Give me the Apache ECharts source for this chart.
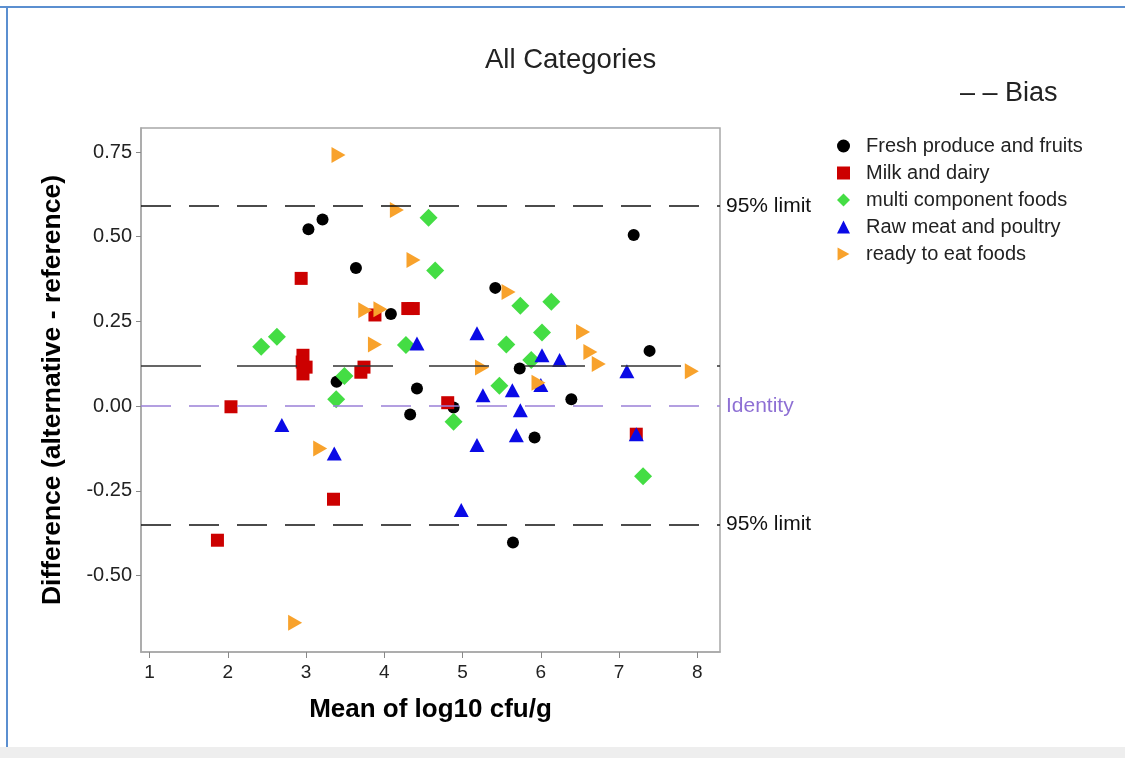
<!DOCTYPE html>
<html>
<head>
<meta charset="utf-8">
<script src="https://cdn.jsdelivr.net/npm/echarts@6/dist/echarts.min.js"></script>
<style>
html,body{margin:0;padding:0;background:#fff;}
#chart{width:1125px;height:758px;}
</style>
</head>
<body>
<div id="chart"></div>
<script>
const categories = ['Fresh produce and fruits', 'Milk and dairy', 'multi component foods', 'Raw meat and poultry', 'ready to eat foods'];

const freshX = [3.03, 3.21, 3.39, 3.637, 4.084, 4.33, 4.417, 4.885, 5.418, 5.644, 5.73, 5.92, 6.39, 7.187, 7.39];
const freshY = [0.522, 0.551, 0.072, 0.408, 0.272, -0.025, 0.052, -0.004, 0.349, -0.403, 0.111, -0.093, 0.02, 0.505, 0.163];

const milkX = [1.867, 2.04, 2.937, 2.96, 2.95, 3.0, 2.96, 3.35, 3.70, 3.74, 3.88, 4.30, 4.37, 4.81, 7.22];
const milkY = [-0.396, -0.002, 0.377, 0.15, 0.13, 0.115, 0.095, -0.275, 0.10, 0.115, 0.269, 0.288, 0.288, 0.01, -0.083];

const multiX = [2.426, 2.627, 3.385, 3.49, 4.276, 4.565, 4.65, 4.885, 5.47, 5.559, 5.738, 5.878, 6.015, 6.134, 7.307];
const multiY = [0.175, 0.205, 0.02, 0.089, 0.18, 0.556, 0.40, -0.046, 0.06, 0.182, 0.296, 0.136, 0.217, 0.308, -0.207];

const rawX = [2.69, 3.36, 4.417, 4.983, 5.184, 5.184, 5.26, 5.636, 5.687, 5.738, 6.0, 6.015, 6.24, 7.10, 7.22];
const rawY = [-0.056, -0.14, 0.185, -0.307, 0.215, -0.115, 0.032, 0.047, -0.086, -0.012, 0.062, 0.15, 0.136, 0.103, -0.083];

const readyX = [2.86, 3.18, 3.414, 3.756, 3.88, 3.95, 4.16, 4.373, 5.248, 5.588, 5.97, 6.54, 6.633, 6.74, 7.93];
const readyY = [-0.64, -0.125, 0.741, 0.283, 0.182, 0.286, 0.579, 0.431, 0.114, 0.337, 0.069, 0.219, 0.16, 0.124, 0.103];

const biasValue = 0.118;
const upperLimit = 0.590;
const lowerLimit = -0.354;
const identityValue = 0;

const xTicks = [1, 2, 3, 4, 5, 6, 7, 8];
const yTicks = [-0.5, -0.25, 0, 0.25, 0.5, 0.75];

function pairs(xs, ys) { return xs.map((x, i) => [x, ys[i]]); }

const FONT = '"Liberation Sans", Arial, sans-serif';
const RIGHT_TRI = 'path://M0,0 L10,5.5 L0,11 Z';

const styles = [
  { symbol: 'circle', size: 12, color: '#000000' },
  { symbol: 'rect', size: 13, color: '#cc0000' },
  { symbol: 'diamond', size: 18, color: '#44dd44' },
  { symbol: 'triangle', size: [15, 14], color: '#0a0ae6' },
  { symbol: RIGHT_TRI, size: [14, 16], color: '#f8a22c' }
];
const legendIcons = ['circle', 'rect', 'diamond', 'triangle', RIGHT_TRI];
const seriesData = [
  pairs(freshX, freshY),
  pairs(milkX, milkY),
  pairs(multiX, multiY),
  pairs(rawX, rawY),
  pairs(readyX, readyY)
];

const scatterSeries = categories.map((name, i) => ({
  name: name,
  type: 'scatter',
  data: seriesData[i],
  symbol: styles[i].symbol,
  symbolSize: styles[i].size,
  itemStyle: { color: styles[i].color, opacity: 1 },
  z: 3,
  emphasis: { disabled: true }
}));

const limitLabel = { show: true, position: 'end', formatter: '95% limit', color: '#111', fontSize: 21, fontFamily: FONT, distance: 6 };

const refSeries = {
  name: 'ref',
  type: 'scatter',
  data: [],
  z: 2,
  silent: true,
  markLine: {
    silent: true,
    symbol: ['none', 'none'],
    animation: false,
    data: [
      { yAxis: identityValue, lineStyle: { color: '#9a80d8', width: 1.6, type: [30, 18] },
        label: { show: true, position: 'end', formatter: 'Identity', color: '#8e70d4', fontSize: 21, fontFamily: FONT, distance: 6 } },
      { yAxis: upperLimit, lineStyle: { color: '#111', width: 1.6, type: [30, 18] }, label: limitLabel },
      { yAxis: lowerLimit, lineStyle: { color: '#111', width: 1.6, type: [30, 18] }, label: limitLabel },
      { yAxis: biasValue, lineStyle: { color: '#333', width: 1.6, type: [60, 36] }, label: { show: false } }
    ]
  }
};

const chart = echarts.init(document.getElementById('chart'), null, { renderer: 'canvas' });
chart.setOption({
  animation: false,
  backgroundColor: '#ffffff',
  legend: {
    orient: 'vertical',
    left: 832, top: 131,
    itemWidth: 13, itemHeight: 13, itemGap: 7,
    data: categories.map((c, i) => ({ name: c, icon: legendIcons[i] })),
    textStyle: { fontFamily: FONT, fontSize: 20, color: '#222', padding: [0, 0, 0, 11] },
    selectedMode: false
  },
  graphic: [
    { type: 'rect', left: 0, top: 6, shape: { width: 1125, height: 2 }, style: { fill: '#5b8fd0' } },
    { type: 'rect', left: 6, top: 6, shape: { width: 2, height: 741 }, style: { fill: '#5b8fd0' } },
    { type: 'rect', left: 0, top: 747, shape: { width: 1125, height: 11 }, style: { fill: '#eeeeee' } },
    { type: 'text', left: 485, top: 46, style: { text: 'All Categories', font: '27.5px "Liberation Sans", Arial, sans-serif', fill: '#222' } },
    { type: 'text', left: 960, top: 80, style: { text: '– – Bias', font: '27px "Liberation Sans", Arial, sans-serif', fill: '#222' } }
  ],
  grid: {
    left: 141, right: 405, top: 128, bottom: 106,
    show: true, borderColor: '#a8a8a8', borderWidth: 1.5, backgroundColor: '#fff'
  },
  xAxis: {
    type: 'value', min: 0.89, max: 8.29,
    name: 'Mean of log10 cfu/g', nameLocation: 'middle', nameGap: 45,
    nameTextStyle: { fontFamily: FONT, fontSize: 26, fontWeight: 'bold', color: '#000' },
    axisLine: { show: true, onZero: false, lineStyle: { color: '#a8a8a8', width: 1.5 } },
    axisTick: { show: true, length: 6, lineStyle: { color: '#888' }, customValues: xTicks },
    axisLabel: { customValues: xTicks, fontFamily: FONT, fontSize: 19, color: '#222', margin: 11 },
    splitLine: { show: false }
  },
  yAxis: {
    type: 'value', min: -0.726, max: 0.821,
    name: 'Difference (alternative - reference)', nameLocation: 'middle', nameGap: 75, nameRotate: 90,
    nameTextStyle: { fontFamily: FONT, fontSize: 26.5, fontWeight: 'bold', color: '#000' },
    axisLine: { show: true, onZero: false, lineStyle: { color: '#a8a8a8', width: 1.5 } },
    axisTick: { show: true, length: 5, lineStyle: { color: '#888' }, customValues: yTicks },
    axisLabel: { customValues: yTicks, fontFamily: FONT, fontSize: 20, color: '#222', margin: 9,
      formatter: v => v.toFixed(2) },
    splitLine: { show: false }
  },
  series: [refSeries].concat(scatterSeries)
});
</script>
</body>
</html>
